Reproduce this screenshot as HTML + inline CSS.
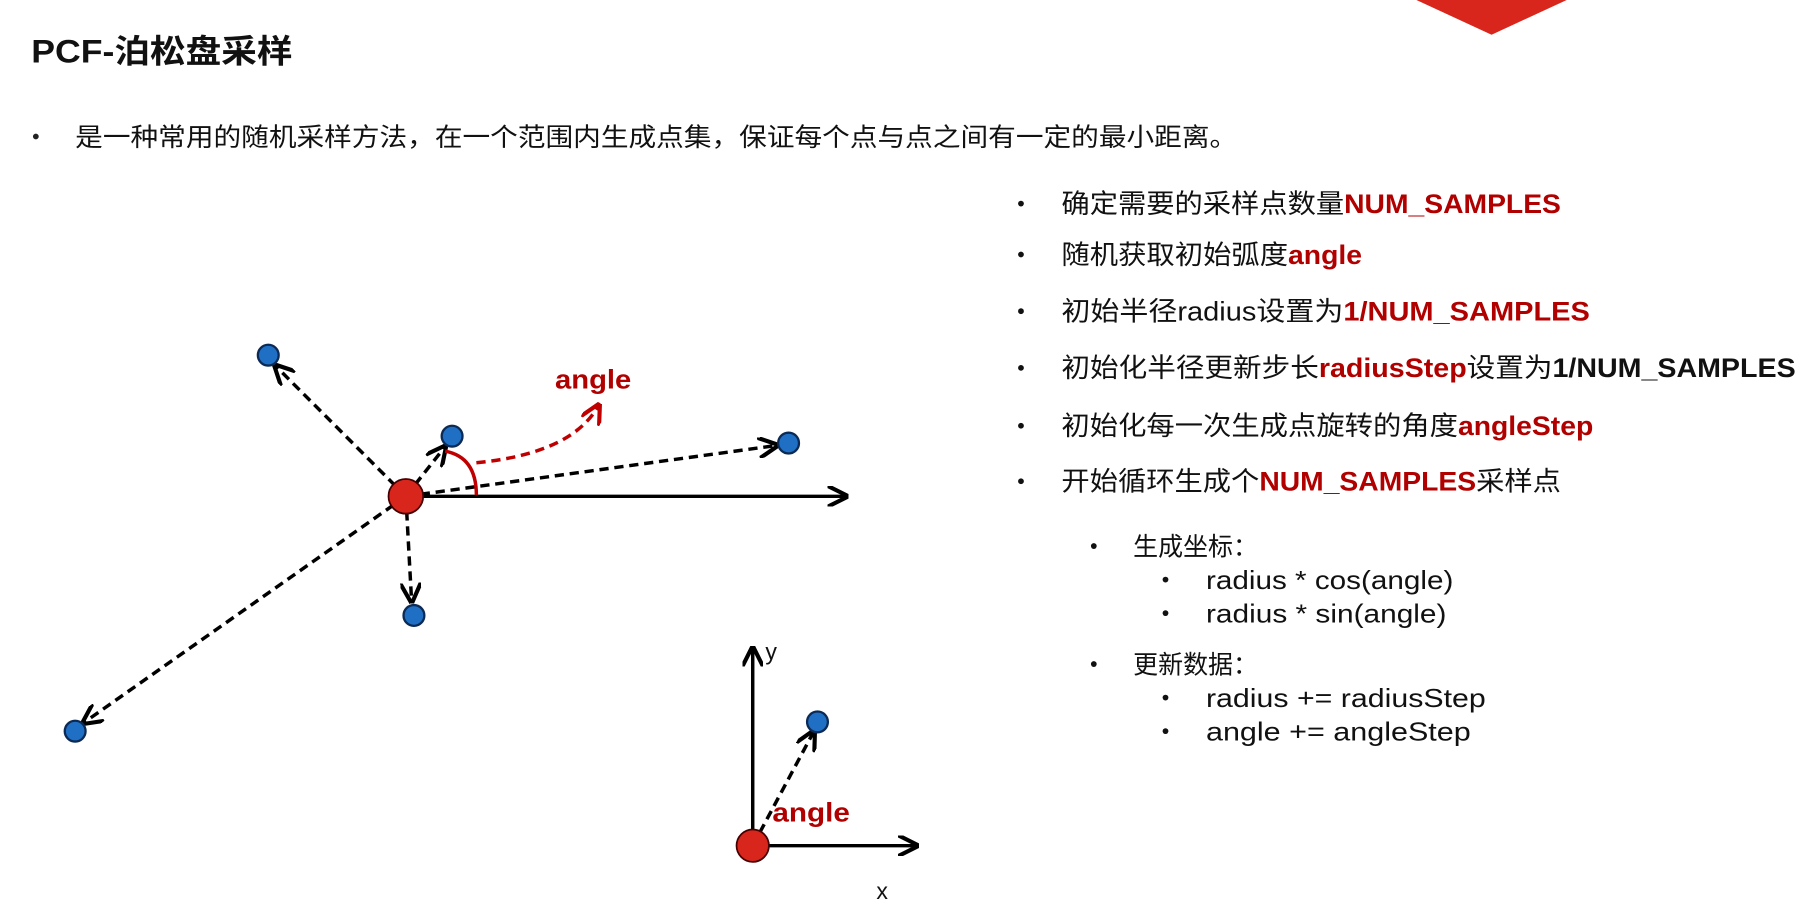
<!DOCTYPE html>
<html><head><meta charset="utf-8"><style>
body{margin:0;background:#fff;width:1813px;height:907px;overflow:hidden}
svg{display:block}
text{font-family:"Liberation Sans","Noto Sans CJK SC",sans-serif}
</style></head><body>
<svg width="1813" height="907" viewBox="0 0 1568 784" preserveAspectRatio="none">
<defs>
<marker id="ah" viewBox="0 0 10 10" refX="9" refY="5" markerWidth="6" markerHeight="6" orient="auto"><path d="M0,0 L10,5 L0,10" fill="none" stroke="#000" stroke-width="2"/></marker>
<marker id="ahr" viewBox="0 0 10 10" refX="9" refY="5" markerWidth="6" markerHeight="6" orient="auto"><path d="M0,0 L10,5 L0,10" fill="none" stroke="#c00000" stroke-width="2"/></marker>
</defs>
<polygon points="1225,0 1355,0 1290,30" fill="#d9261c"/>
<text x="27" y="54" font-size="28" font-weight="bold" fill="#111" textLength="226" lengthAdjust="spacingAndGlyphs">PCF-泊松盘采样</text>
<circle cx="31" cy="118" r="2.5" fill="#222"/>
<text x="65" y="126" font-size="22" fill="#111" textLength="1005" lengthAdjust="spacingAndGlyphs">是一种常用的随机采样方法，在一个范围内生成点集，保证每个点与点之间有一定的最小距离。</text>
<g font-size="23" fill="#111">
<circle cx="883" cy="176" r="2.5"/><text x="918" y="184" textLength="432" lengthAdjust="spacingAndGlyphs">确定需要的采样点数量<tspan fill="#b00000" font-weight="bold">NUM_SAMPLES</tspan></text>
<circle cx="883" cy="220" r="2.5"/><text x="918" y="228" textLength="260" lengthAdjust="spacingAndGlyphs">随机获取初始弧度<tspan fill="#b00000" font-weight="bold">angle</tspan></text>
<circle cx="883" cy="269" r="2.5"/><text x="918" y="277" textLength="457" lengthAdjust="spacingAndGlyphs">初始半径radius设置为<tspan fill="#b00000" font-weight="bold">1/NUM_SAMPLES</tspan></text>
<circle cx="883" cy="318" r="2.5"/><text x="918" y="326" textLength="635" lengthAdjust="spacingAndGlyphs">初始化半径更新步长<tspan fill="#b00000" font-weight="bold">radiusStep</tspan>设置为<tspan font-weight="bold">1/NUM_SAMPLES</tspan></text>
<circle cx="883" cy="368" r="2.5"/><text x="918" y="376" textLength="460" lengthAdjust="spacingAndGlyphs">初始化每一次生成点旋转的角度<tspan fill="#b00000" font-weight="bold">angleStep</tspan></text>
<circle cx="883" cy="416" r="2.5"/><text x="918" y="424" textLength="432" lengthAdjust="spacingAndGlyphs">开始循环生成个<tspan fill="#b00000" font-weight="bold">NUM_SAMPLES</tspan>采样点</text>
</g>
<g font-size="22" fill="#111">
<circle cx="946" cy="472" r="2.5"/><text x="980" y="480" textLength="108" lengthAdjust="spacingAndGlyphs">生成坐标：</text>
<circle cx="1008" cy="501" r="2.5"/><text x="1043" y="509" textLength="214" lengthAdjust="spacingAndGlyphs">radius * cos(angle)</text>
<circle cx="1008" cy="530" r="2.5"/><text x="1043" y="538" textLength="208" lengthAdjust="spacingAndGlyphs">radius * sin(angle)</text>
<circle cx="946" cy="574" r="2.5"/><text x="980" y="582" textLength="108" lengthAdjust="spacingAndGlyphs">更新数据：</text>
<circle cx="1008" cy="603" r="2.5"/><text x="1043" y="611" textLength="242" lengthAdjust="spacingAndGlyphs">radius += radiusStep</text>
<circle cx="1008" cy="632" r="2.5"/><text x="1043" y="640" textLength="229" lengthAdjust="spacingAndGlyphs">angle += angleStep</text>
</g>
<g stroke="#000" stroke-width="3" fill="none">
<line x1="351" y1="429" x2="732" y2="429" marker-end="url(#ah)"/>
<g stroke-dasharray="8,5">
<line x1="351" y1="429" x2="238" y2="316" marker-end="url(#ah)"/>
<line x1="351" y1="429" x2="385" y2="386" marker-end="url(#ah)"/>
<line x1="351" y1="429" x2="672" y2="385" marker-end="url(#ah)"/>
<line x1="351" y1="429" x2="356" y2="520" marker-end="url(#ah)"/>
<line x1="351" y1="429" x2="72" y2="625" marker-end="url(#ah)"/>
</g>
<path d="M385,390 Q412,395 412,428" stroke="#c00000" stroke-width="3"/>
<path d="M412,400 Q495,392 518,350" stroke="#c00000" stroke-dasharray="8,5" marker-end="url(#ahr)"/>
</g>
<circle cx="351" cy="429" r="15" fill="#d9261c" stroke="#400" stroke-width="1.5"/>
<g fill="#1f6fc5" stroke="#0b2a55" stroke-width="2">
<circle cx="232" cy="307" r="9"/><circle cx="391" cy="377" r="9"/><circle cx="682" cy="383" r="9"/><circle cx="358" cy="532" r="9"/><circle cx="65" cy="632" r="9"/>
</g>
<text x="480" y="336" font-size="23" font-weight="bold" fill="#b00000" textLength="66" lengthAdjust="spacingAndGlyphs">angle</text>
<g stroke="#000" stroke-width="3" fill="none">
<line x1="651" y1="731" x2="651" y2="560" marker-end="url(#ah)"/>
<line x1="651" y1="731" x2="793" y2="731" marker-end="url(#ah)"/>
<line x1="651" y1="731" x2="704" y2="632" stroke-dasharray="8,5" marker-end="url(#ah)"/>
</g>
<circle cx="651" cy="731" r="14" fill="#d9261c" stroke="#400" stroke-width="1.5"/>
<circle cx="707" cy="624" r="9" fill="#1f6fc5" stroke="#0b2a55" stroke-width="2"/>
<text x="662" y="570" font-size="20" fill="#111">y</text>
<text x="758" y="777" font-size="20" fill="#111">x</text>
<text x="668" y="710" font-size="23" font-weight="bold" fill="#b00000" textLength="67" lengthAdjust="spacingAndGlyphs">angle</text>
</svg>
</body></html>
